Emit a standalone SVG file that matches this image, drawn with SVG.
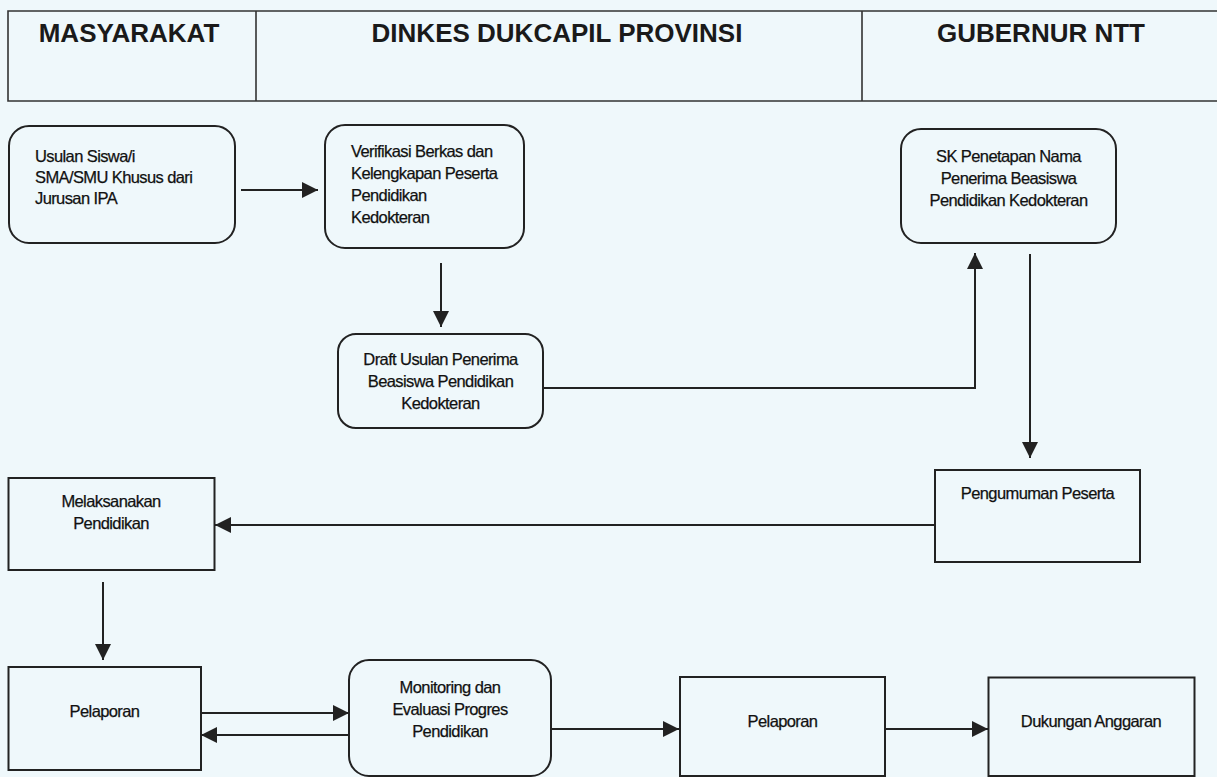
<svg xmlns="http://www.w3.org/2000/svg" width="1217" height="777" viewBox="0 0 1217 777">
<style>
.bg{fill:#eff8fb}
.box{fill:none;stroke:#222;stroke-width:2}
.hdr{fill:none;stroke:#333;stroke-width:1.6}
.ht{font-family:"Liberation Sans",Arial,sans-serif;font-weight:bold;font-size:26px;fill:#1a1a1a;text-anchor:middle}
.t{font-family:"Liberation Sans",Arial,sans-serif;font-size:16.5px;letter-spacing:-0.6px;fill:#111;stroke:#111;stroke-width:0.25}
.c{text-anchor:middle}
.ln{fill:none;stroke:#222;stroke-width:2}
</style>
<defs>
<marker id="ah" markerUnits="userSpaceOnUse" markerWidth="17" markerHeight="16" refX="16" refY="8" orient="auto">
<path d="M0,0 L16,8 L0,16 Z" fill="#222"/>
</marker>
</defs>
<rect class="bg" x="0" y="0" width="1217" height="777"/>
<g id="header">
<path class="hdr" d="M1217,11 H8 V101 H1217 M256,11 V101 M862,11 V101"/>
<text class="ht" x="129" y="41.5">MASYARAKAT</text>
<text class="ht" x="557" y="41.5">DINKES DUKCAPIL PROVINSI</text>
<text class="ht" x="1041" y="41.5">GUBERNUR NTT</text>
</g>
<g id="usulan">
<rect class="box" x="9" y="126" width="226" height="117" rx="20"/>
<text class="t"><tspan x="35" y="162">Usulan Siswa/i</tspan><tspan x="35" y="183">SMA/SMU Khusus dari</tspan><tspan x="35" y="204">Jurusan IPA</tspan></text>
</g>
<g id="verifikasi">
<rect class="box" x="325" y="125" width="199" height="123" rx="20"/>
<text class="t"><tspan x="351" y="157">Verifikasi Berkas dan</tspan><tspan x="351" y="179">Kelengkapan Peserta</tspan><tspan x="351" y="201">Pendidikan</tspan><tspan x="351" y="223">Kedokteran</tspan></text>
</g>
<g id="draft">
<rect class="box" x="338" y="334" width="205" height="94" rx="18"/>
<text class="t c"><tspan x="440.5" y="365">Draft Usulan Penerima</tspan><tspan x="440.5" y="387">Beasiswa Pendidikan</tspan><tspan x="440.5" y="409">Kedokteran</tspan></text>
</g>
<g id="sk">
<rect class="box" x="901" y="129" width="215" height="114" rx="20"/>
<text class="t c"><tspan x="1008.5" y="162">SK Penetapan Nama</tspan><tspan x="1008.5" y="184">Penerima Beasiswa</tspan><tspan x="1008.5" y="206">Pendidikan Kedokteran</tspan></text>
</g>
<g id="pengumuman">
<rect class="box" x="935" y="470" width="205" height="92"/>
<text class="t c" x="1037.5" y="499">Pengumuman Peserta</text>
</g>
<g id="melaksanakan">
<rect class="box" x="8.5" y="478" width="206" height="92"/>
<text class="t c"><tspan x="111" y="507">Melaksanakan</tspan><tspan x="111" y="529">Pendidikan</tspan></text>
</g>
<g id="pelaporan1">
<rect class="box" x="8.5" y="667" width="192.5" height="103"/>
<text class="t c" x="104.5" y="717">Pelaporan</text>
</g>
<g id="monitoring">
<rect class="box" x="349" y="660" width="202" height="116" rx="20"/>
<text class="t c"><tspan x="450" y="693">Monitoring dan</tspan><tspan x="450" y="715">Evaluasi Progres</tspan><tspan x="450" y="737">Pendidikan</tspan></text>
</g>
<g id="pelaporan2">
<rect class="box" x="680" y="677" width="205" height="99"/>
<text class="t c" x="782.5" y="727">Pelaporan</text>
</g>
<g id="dukungan">
<rect class="box" x="988.5" y="677.5" width="206" height="98.5"/>
<text class="t c" x="1091" y="727">Dukungan Anggaran</text>
</g>
<g id="connectors">
<path class="ln" d="M241,190 H318" marker-end="url(#ah)"/>
<path class="ln" d="M441,263 V327" marker-end="url(#ah)"/>
<path class="ln" d="M543,388 H975 V253" marker-end="url(#ah)"/>
<path class="ln" d="M1030,254 V458" marker-end="url(#ah)"/>
<path class="ln" d="M935,525 H215" marker-end="url(#ah)"/>
<path class="ln" d="M103,582 V660" marker-end="url(#ah)"/>
<path class="ln" d="M201,713 H349" marker-end="url(#ah)"/>
<path class="ln" d="M349,735 H201" marker-end="url(#ah)"/>
<path class="ln" d="M551,729 H679" marker-end="url(#ah)"/>
<path class="ln" d="M885,729 H988" marker-end="url(#ah)"/>
</g>
</svg>
